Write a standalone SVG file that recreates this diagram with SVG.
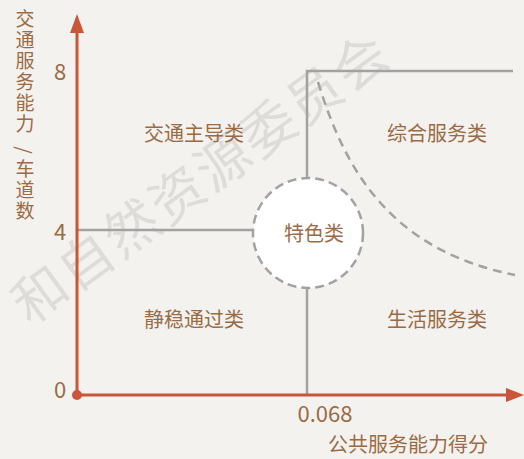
<svg xmlns="http://www.w3.org/2000/svg" width="524" height="459" viewBox="0 0 524 459">
<style>
.t{font-family:"Noto Sans CJK SC","Noto Sans",sans-serif;fill:#9a6b45;}
.lbl{font-size:20px;text-anchor:middle;dominant-baseline:central;}
.num{font-size:22px;text-anchor:middle;dominant-baseline:central;}
.grey{stroke:#a2a2a2;stroke-width:2.5;fill:none;}
.axis{stroke:#c9553a;stroke-width:3;fill:none;}
</style>
<rect width="524" height="459" fill="#f4f2ee"/>
<text x="-26" y="0" transform="translate(37,292) rotate(-36)" font-family="Noto Sans CJK SC,sans-serif" font-size="54" letter-spacing="2.5" fill="#000" fill-opacity="0.09" dominant-baseline="central">和自然资源委员会</text>
<g id="connectors">
<path class="grey" d="M77,230 H254"/>
<path class="grey" d="M307,395 V288"/>
<path class="grey" d="M307,178 V71 H513"/>
<path class="grey" d="M318,82 C345,170 390,250 515,275" stroke-dasharray="9 6"/>
</g>
<g id="axes">
<path class="axis" d="M77,395 V30"/>
<path d="M77,14 L84,33 L70,33 Z" fill="#c9553a"/>
<path class="axis" d="M77,395 H510"/>
<path d="M524,395 L506,388 L506,402 Z" fill="#c9553a"/>
<circle cx="77" cy="395" r="5" fill="#c9553a"/>
<text class="t num" x="60" y="70">8</text>
<text class="t num" x="60" y="230">4</text>
<text class="t num" x="60" y="388">0</text>
<text class="t num" x="325" y="412">0.068</text>
<text class="t" x="408" y="443" font-size="20" text-anchor="middle" dominant-baseline="central">公共服务能力得分</text>
<text class="t" font-size="19" text-anchor="middle"><tspan x="25" y="26">交</tspan><tspan x="25" y="47">通</tspan><tspan x="25" y="68">服</tspan><tspan x="25" y="89">务</tspan><tspan x="25" y="110">能</tspan><tspan x="25" y="131">力</tspan><tspan x="25" y="176">车</tspan><tspan x="25" y="197">道</tspan><tspan x="25" y="218">数</tspan></text>
<text class="t" font-size="19" text-anchor="middle" dominant-baseline="central" transform="translate(25,150) rotate(90)">/</text>
</g>
<g id="node-jiaotong"><text class="t lbl" x="194" y="132">交通主导类</text></g>
<g id="node-zonghe"><text class="t lbl" x="437" y="132">综合服务类</text></g>
<g id="node-jingwen"><text class="t lbl" x="194" y="318">静稳通过类</text></g>
<g id="node-shenghuo"><text class="t lbl" x="437" y="318">生活服务类</text></g>
<g id="node-tese">
<circle cx="308" cy="233" r="55" fill="#ffffff" stroke="#a2a2a2" stroke-width="2.5" stroke-dasharray="9 5"/>
<text class="t lbl" x="314" y="232">特色类</text>
</g>
</svg>
